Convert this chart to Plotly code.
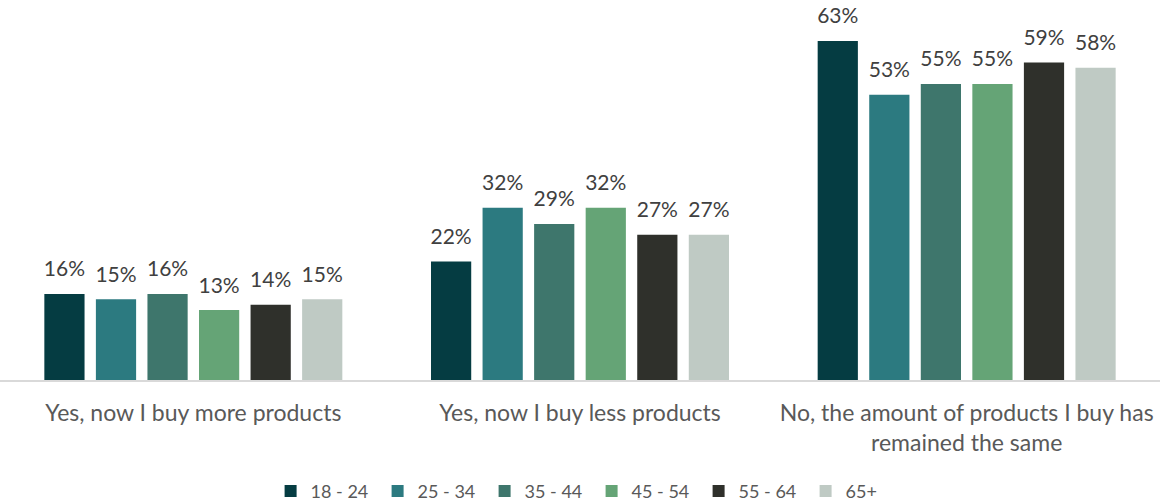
import plotly.graph_objects as go

categories = [
    "Yes, now I buy more products",
    "Yes, now I buy less products",
    "No, the amount of products I buy has<br>remained the same",
]
age_groups = ["18 - 24", "25 - 34", "35 - 44", "45 - 54", "55 - 64", "65+"]
values = {
    "18 - 24": [16, 22, 63],
    "25 - 34": [15, 32, 53],
    "35 - 44": [16, 29, 55],
    "45 - 54": [13, 32, 55],
    "55 - 64": [14, 27, 59],
    "65+": [15, 27, 58],
}
colors = ["#053c42", "#2c7a80", "#3e766c", "#65a476", "#2f302b", "#bfcac4"]

FONT = "Lato, 'Open Sans', sans-serif"

fig = go.Figure()
for name, color in zip(age_groups, colors):
    vals = values[name]
    fig.add_trace(go.Bar(
        name=name,
        x=categories,
        y=vals,
        offsetgroup=name,
        marker=dict(color=color, line=dict(width=0)),
    ))

# value labels, placed above each bar in the same group slots
for name in age_groups:
    vals = values[name]
    fig.add_trace(go.Scatter(
        x=categories,
        y=vals,
        offsetgroup=name,
        mode="markers+text",
        marker=dict(size=18, opacity=0),
        text=[f"{v}%" for v in vals],
        textposition="top center",
        textfont=dict(size=21, color="#404040", family=FONT),
        showlegend=False,
        hoverinfo="skip",
        cliponaxis=False,
    ))

fig.update_layout(
    width=1160,
    height=504,
    barmode="group",
    scattermode="group",
    bargap=0.2,
    scattergap=0.2,
    bargroupgap=0.22,
    plot_bgcolor="white",
    paper_bgcolor="white",
    margin=dict(l=0, r=0, t=0, b=124, autoexpand=False),
    font=dict(family=FONT, color="#595959"),
    legend=dict(
        orientation="h",
        x=0.51,
        xanchor="center",
        y=-0.293,
        yanchor="middle",
        font=dict(size=18, color="#595959", family=FONT),
        itemwidth=30,
        entrywidth=62,
        traceorder="normal",
    ),
    showlegend=True,
)
fig.update_xaxes(
    automargin=False,
    showline=True,
    linecolor="#d9d9d9",
    linewidth=2,
    tickfont=dict(size=23, color="#595959", family=FONT),
    ticklabelstandoff=11,
    ticks="",
    showgrid=False,
)
fig.update_yaxes(
    range=[0, 70.6],
    visible=False,
    showgrid=False,
    zeroline=False,
)

fig.write_html("out.html")
